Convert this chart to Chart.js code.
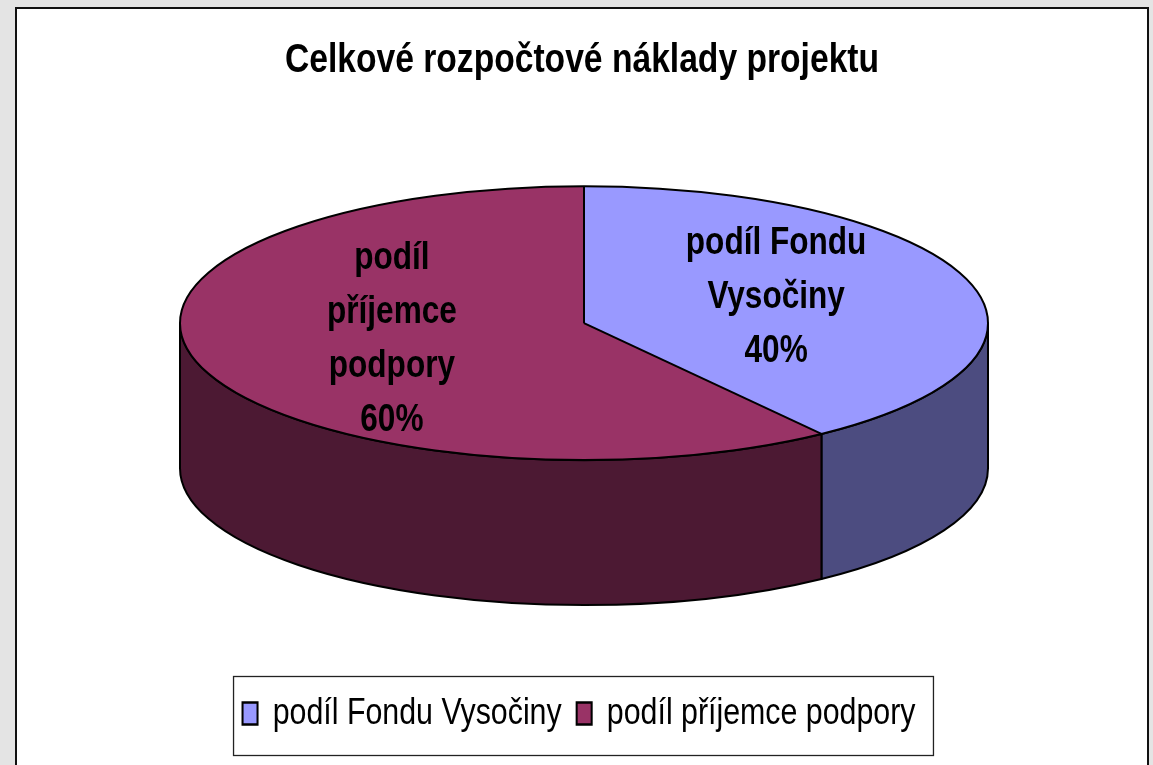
<!DOCTYPE html>
<html><head><meta charset="utf-8">
<script src="https://cdn.jsdelivr.net/npm/chart.js@4/dist/chart.umd.min.js"></script>
<style>
html,body{margin:0;padding:0;background:#e4e4e4;width:1153px;height:765px;overflow:hidden}
#panel{position:absolute;left:15px;top:7px;width:1130px;height:800px;border:2px solid #111;background:#fff}
canvas{position:absolute;left:0;top:0}
</style></head><body>
<div id="panel"><canvas id="c" width="1130" height="756"></canvas></div>
<script>
const chartTitle = 'Celkové rozpočtové náklady projektu';
const categories = ['podíl Fondu Vysočiny', 'podíl příjemce podpory'];
const labelLines = [['podíl Fondu', 'Vysočiny'], ['podíl', 'příjemce', 'podpory']];
const shares = [40, 60];
const topColors = ['#9999FF', '#993366'];
const sideColors = ['#4C4C80', '#4C1933'];

function hasFont(name) {
  const c = document.createElement('canvas').getContext('2d');
  const t = 'podíl Fondu Vysočiny WMwil 0123';
  let diff = false;
  ['monospace', 'serif'].forEach(fb => {
    c.font = '40px ' + fb; const a = c.measureText(t).width;
    c.font = "40px '" + name + "', " + fb; const b = c.measureText(t).width;
    if (Math.abs(a - b) > 0.5) diff = true;
  });
  return diff;
}
const NARROW = ['Liberation Sans Narrow', 'Arial Narrow'].find(hasFont);
const FONT = NARROW ? "'" + NARROW + "', 'Liberation Sans', Arial, sans-serif" : "'Liberation Sans', Arial, sans-serif";
// horizontal condensing used to imitate a narrow face when none is installed
const K = NARROW ? 1 : 0.82;
const sz = { title: 41, legend: 37, label: 38.5 };
const proj = { rx: 404, tilt: 0.339, depth: 145, dx: 2, topGap: 80 };
const legendShift = -3;

function geom(chart) {
  const ca = chart.chartArea;
  const arcs = chart.getDatasetMeta(0).data;
  const p = arcs[0].getProps(['x', 'y', 'outerRadius'], true);
  const rx = proj.rx, ry = proj.rx * proj.tilt;
  const cx = p.x + proj.dx;
  const cy = ca.top + ry + proj.topGap;
  return { p, cx, cy, rx, ry, d: proj.depth, arcs };
}

const pie3d = {
  id: 'pie3d',
  beforeDatasetsDraw(chart) {
    const ctx = chart.ctx, g = geom(chart);
    ctx.save();
    ctx.lineWidth = 2; ctx.strokeStyle = '#000'; ctx.lineJoin = 'round';
    g.arcs.forEach((a, i) => {
      const { startAngle: s, endAngle: e } = a.getProps(['startAngle', 'endAngle'], true);
      [-2 * Math.PI, 0, 2 * Math.PI].forEach(k => {
        const lo = Math.max(s, k), hi = Math.min(e, k + Math.PI);
        if (hi - lo <= 1e-6) return;
        ctx.beginPath();
        ctx.ellipse(g.cx, g.cy, g.rx, g.ry, 0, lo, hi, false);
        ctx.lineTo(g.cx + g.rx * Math.cos(hi), g.cy + g.d + g.ry * Math.sin(hi));
        ctx.ellipse(g.cx, g.cy + g.d, g.rx, g.ry, 0, hi, lo, true);
        ctx.closePath();
        ctx.fillStyle = sideColors[i];
        ctx.fill();
        ctx.stroke();
      });
    });
    ctx.restore();
    ctx.save();
    ctx.translate(g.cx, g.cy);
    ctx.scale(g.rx / g.p.outerRadius, g.ry / g.p.outerRadius);
    ctx.translate(-g.p.x, -g.p.y);
  },
  afterDatasetsDraw(chart) {
    const ctx = chart.ctx;
    ctx.restore();
    const g = geom(chart);
    ctx.save();
    ctx.lineWidth = 2; ctx.strokeStyle = '#000'; ctx.lineJoin = 'round';
    ctx.beginPath();
    ctx.ellipse(g.cx, g.cy, g.rx, g.ry, 0, 0, Math.PI * 2);
    ctx.stroke();
    g.arcs.forEach(a => {
      const { startAngle: s } = a.getProps(['startAngle'], true);
      ctx.beginPath();
      ctx.moveTo(g.cx, g.cy);
      ctx.lineTo(g.cx + g.rx * Math.cos(s), g.cy + g.ry * Math.sin(s));
      ctx.stroke();
    });
    const data = chart.data.datasets[0].data;
    const total = data.reduce((t, v) => t + v, 0);
    ctx.fillStyle = '#000';
    ctx.font = 'bold ' + sz.label + 'px ' + FONT;
    ctx.textAlign = 'center';
    ctx.textBaseline = 'middle';
    const lh = 54;
    g.arcs.forEach((a, i) => {
      const { startAngle: s, endAngle: e } = a.getProps(['startAngle', 'endAngle'], true);
      const mid = (s + e) / 2;
      const lx = g.cx + 0.5 * g.rx * Math.cos(mid);
      const ly = g.cy + 0.5 * g.ry * Math.sin(mid) - 5;
      const lines = labelLines[i].concat([Math.round(data[i] / total * 100) + '%']);
      ctx.save();
      ctx.translate(lx, 0); ctx.scale(K, 1);
      lines.forEach((t, j) => {
        ctx.fillText(t, 0, ly + (j - (lines.length - 1) / 2) * lh);
      });
      ctx.restore();
    });
    ctx.restore();
  },
  afterDraw(chart) {
    const lg = chart.legend;
    if (!lg || !lg.legendHitBoxes || !lg.legendHitBoxes.length) return;
    const hb = lg.legendHitBoxes;
    const c = lg.left + lg.width / 2;
    const tx = x => c + (x - c) * K + legendShift;
    const left = tx(Math.min(...hb.map(h => h.left))) - 9;
    const right = tx(Math.max(...hb.map(h => h.left + h.width))) + 18;
    const midY = hb[0].top + hb[0].height / 2;
    const ctx = chart.ctx;
    ctx.save();
    ctx.strokeStyle = '#222'; ctx.lineWidth = 1.3;
    ctx.strokeRect(left, midY - 37, right - left, 79);
    ctx.restore();
  }
};

Chart.defaults.color = '#000';
Chart.defaults.font.family = FONT;

const chart = new Chart(document.getElementById('c'), {
  type: 'pie',
  data: {
    labels: categories,
    datasets: [{
      data: shares,
      backgroundColor: topColors,
      borderWidth: 0,
      hoverOffset: 0,
      clip: false
    }]
  },
  options: {
    responsive: false,
    animation: false,
    events: [],
    layout: { padding: { top: 0, bottom: 23, left: 0, right: 0 } },
    plugins: {
      tooltip: { enabled: false },
      title: {
        display: true,
        text: chartTitle,
        color: '#000',
        font: { size: sz.title, weight: 'bold', family: FONT },
        padding: { top: 27, bottom: 21 }
      },
      legend: {
        display: true,
        position: 'bottom',
        labels: {
          color: '#000',
          font: { size: sz.legend, family: FONT },
          boxWidth: 15 / K,
          boxHeight: 22,
          padding: 15 / K,
          generateLabels(chart) {
            const ds = chart.data.datasets[0];
            return chart.data.labels.map((l, i) => ({
              text: l,
              fillStyle: ds.backgroundColor[i],
              strokeStyle: '#000',
              lineWidth: 2.5,
              hidden: false,
              index: i,
              fontColor: '#000'
            }));
          }
        }
      }
    }
  },
  plugins: [pie3d]
});

[chart.titleBlock, chart.legend].forEach(box => {
  if (!box) return;
  const shift = box === chart.legend ? legendShift : 0;
  if (K === 1 && shift === 0) return;
  const orig = box.draw.bind(box);
  box.draw = function (...args) {
    const ctx = chart.ctx, c = box.left + box.width / 2;
    ctx.save();
    ctx.translate(c + shift, 0); ctx.scale(K, 1); ctx.translate(-c, 0);
    orig(...args);
    ctx.restore();
  };
});
chart.draw();
</script>
</body></html>
